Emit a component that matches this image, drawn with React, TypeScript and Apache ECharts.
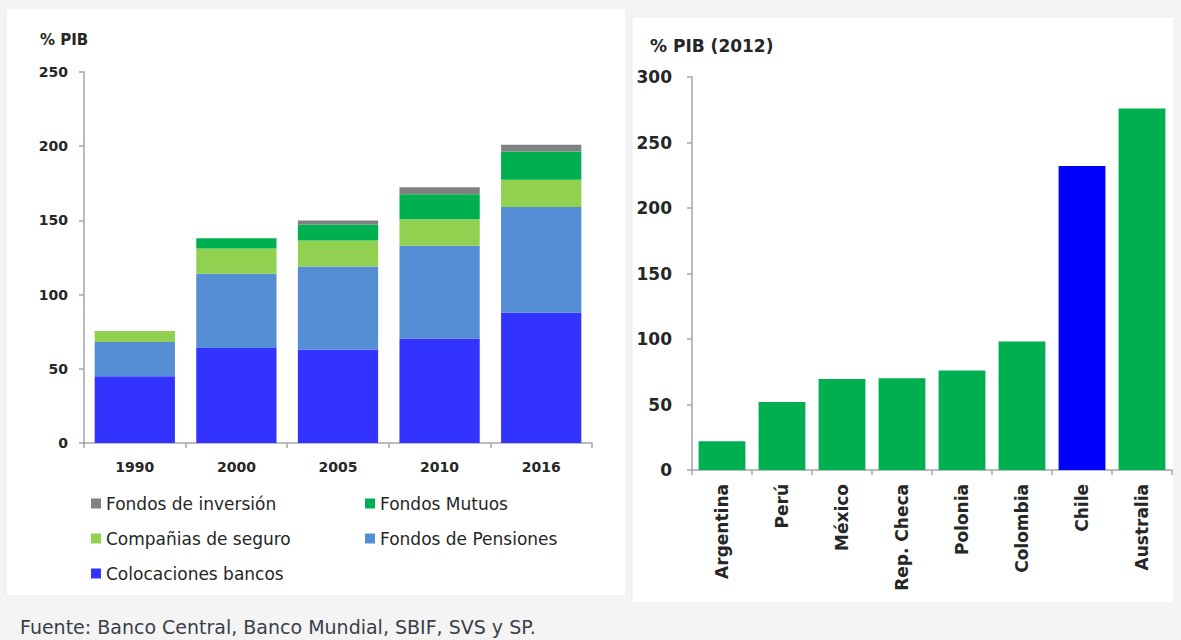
import React, { useEffect, useRef } from "react";
import * as echarts from "echarts";

const years = ["1990", "2000", "2005", "2010", "2016"];
const colocaciones = [45, 64, 63, 70.5, 88];
const pensiones = [23, 50, 56, 62.5, 71];
const seguros = [7.5, 17, 17.5, 17.7, 18.4];
const mutuos = [0, 7, 10.8, 16.9, 19.1];
const inversion = [0, 0, 2.7, 4.7, 4.5];

const countries = ["Argentina", "Perú", "México", "Rep. Checa", "Polonia", "Colombia", "Chile", "Australia"];
const countryValues = [22, 52, 69.5, 70, 76, 98, 232, 276];
const highlightCountry = "Chile";

const leftTicks = { min: 0, max: 250, interval: 50 };
const rightTicks = { min: 0, max: 300, interval: 50 };

const FONT = "DejaVu Sans";
const TXT = "#262626";
const AXIS = "#a6a6a6";

export default function App() {
  const ref = useRef<HTMLDivElement>(null);
  useEffect(() => {
    document.body.style.margin = "0";
    const chart = echarts.init(ref.current!, null, { renderer: "svg" });
    const legendItem = (name: string, left: number, top: number) => ({
      show: true,
      data: [name],
      left,
      top,
      icon: "rect",
      itemWidth: 10,
      itemHeight: 10,
      selectedMode: false,
      padding: 0,
      textStyle: { fontFamily: FONT, fontSize: 17, color: TXT },
    });
    const axisLineStyle = { lineStyle: { color: AXIS, width: 1.5 } };
    const option: any = {
      animation: false,
      backgroundColor: "#f4f4f4",
      graphic: [
        { type: "rect", z: -100, shape: { x: 6, y: 8, width: 620, height: 588 }, style: { fill: "#ffffff", stroke: "#ededed" } },
        { type: "rect", z: -100, shape: { x: 632, y: 17, width: 542, height: 586 }, style: { fill: "#ffffff", stroke: "#ededed" } },
        { type: "text", x: 40, y: 40, style: { text: "% PIB", fontFamily: FONT, fontSize: 15, fontWeight: "bold", fill: TXT, verticalAlign: "middle" } },
        { type: "text", x: 650, y: 46, style: { text: "% PIB (2012)", fontFamily: FONT, fontSize: 17, fontWeight: "bold", fill: TXT, verticalAlign: "middle" } },
        { type: "text", x: 20, y: 627, style: { text: "Fuente: Banco Central, Banco Mundial, SBIF, SVS y SP.", fontFamily: FONT, fontSize: 19, fill: "#3a3f48", verticalAlign: "middle" } },
      ],
      legend: [
        legendItem("Fondos de inversión", 91, 495),
        legendItem("Compañias de seguro", 91, 530),
        legendItem("Colocaciones bancos", 91, 565),
        legendItem("Fondos Mutuos", 365, 495),
        legendItem("Fondos de Pensiones", 365, 530),
      ],
      grid: [
        { left: 84, top: 72, width: 508, height: 371 },
        { left: 692, top: 77, width: 480, height: 393 },
      ],
      xAxis: [
        {
          type: "category",
          gridIndex: 0,
          data: years,
          axisLine: axisLineStyle,
          axisTick: { show: true, length: 5, lineStyle: { color: AXIS, width: 1.5 } },
          axisLabel: { fontFamily: FONT, fontSize: 14, fontWeight: "bold", color: TXT, margin: 17 },
        },
        {
          type: "category",
          gridIndex: 1,
          data: countries,
          axisLine: axisLineStyle,
          axisTick: { show: true, length: 5, lineStyle: { color: AXIS, width: 1.5 } },
          axisLabel: { fontFamily: FONT, fontSize: 17, fontWeight: "bold", color: TXT, rotate: 90, margin: 14, interval: 0 },
        },
      ],
      yAxis: [
        {
          type: "value",
          gridIndex: 0,
          ...leftTicks,
          axisLine: { show: true, ...axisLineStyle },
          axisTick: { show: true, length: 5, lineStyle: { color: AXIS, width: 1.5 } },
          splitLine: { show: false },
          axisLabel: { fontFamily: FONT, fontSize: 14, fontWeight: "bold", color: TXT, margin: 16 },
        },
        {
          type: "value",
          gridIndex: 1,
          ...rightTicks,
          axisLine: { show: true, ...axisLineStyle },
          axisTick: { show: true, length: 5, lineStyle: { color: AXIS, width: 1.5 } },
          splitLine: { show: false },
          axisLabel: { fontFamily: FONT, fontSize: 17, fontWeight: "bold", color: TXT, margin: 20 },
        },
      ],
      series: [
        { name: "Colocaciones bancos", type: "bar", stack: "a", data: colocaciones, itemStyle: { color: "#3333ff" }, barCategoryGap: "21%" },
        { name: "Fondos de Pensiones", type: "bar", stack: "a", data: pensiones, itemStyle: { color: "#558ed5" } },
        { name: "Compañias de seguro", type: "bar", stack: "a", data: seguros, itemStyle: { color: "#92d050" } },
        { name: "Fondos Mutuos", type: "bar", stack: "a", data: mutuos, itemStyle: { color: "#00b050" } },
        { name: "Fondos de inversión", type: "bar", stack: "a", data: inversion, itemStyle: { color: "#808080" } },
        {
          name: "PIB 2012",
          type: "bar",
          xAxisIndex: 1,
          yAxisIndex: 1,
          barCategoryGap: "22%",
          data: countryValues.map((v, i) => ({
            value: v,
            itemStyle: { color: countries[i] === highlightCountry ? "#0000ff" : "#00b050" },
          })),
        },
      ],
    };
    chart.setOption(option);
    return () => chart.dispose();
  }, []);
  return <div ref={ref} style={{ width: 1181, height: 640 }} />;
}
